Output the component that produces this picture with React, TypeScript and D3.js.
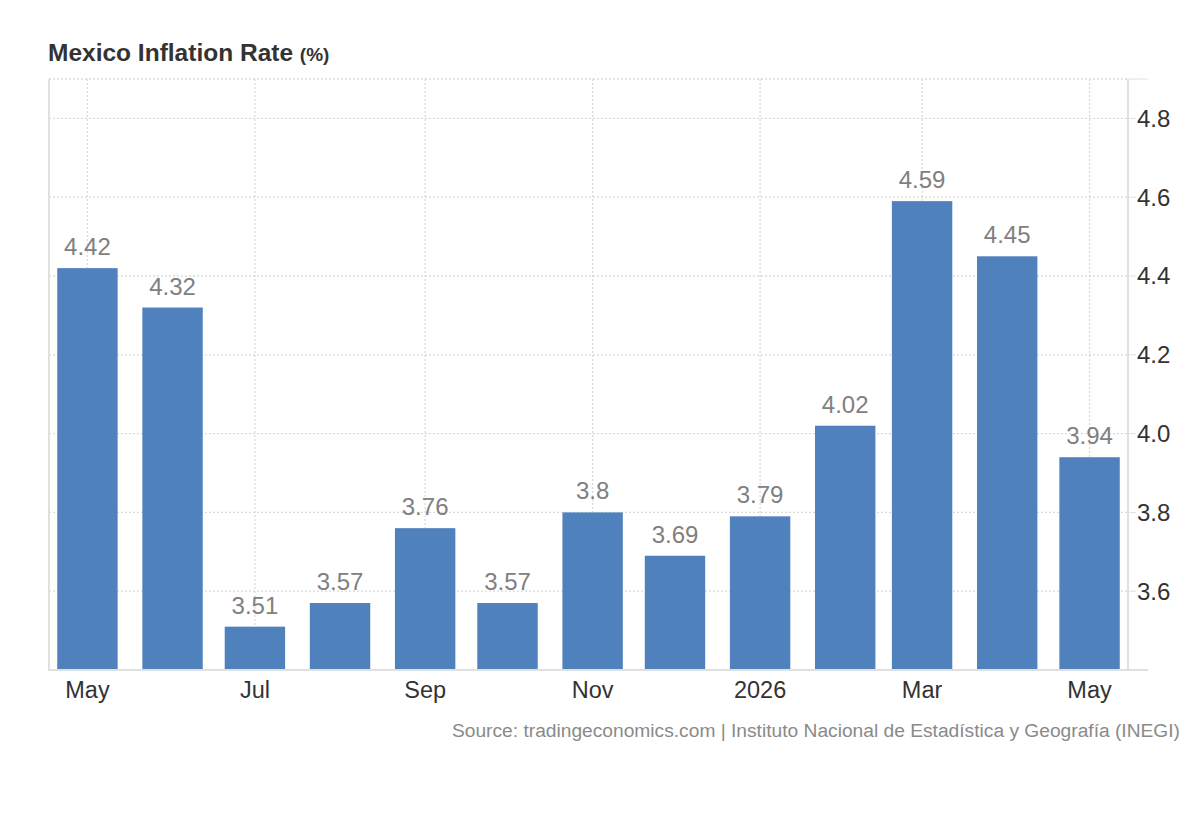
import React, { useRef, useEffect } from "react";
import * as d3 from "d3";

const months = [
  "2025-05-01", "2025-06-01", "2025-07-01", "2025-08-01", "2025-09-01",
  "2025-10-01", "2025-11-01", "2025-12-01", "2026-01-01", "2026-02-01",
  "2026-03-01", "2026-04-01", "2026-05-01",
];
const inflation = [4.42, 4.32, 3.51, 3.57, 3.76, 3.57, 3.8, 3.69, 3.79, 4.02, 4.59, 4.45, 3.94];
const yTicks = [3.6, 3.8, 4.0, 4.2, 4.4, 4.6, 4.8];
const xTickDates = ["2025-05-01", "2025-07-01", "2025-09-01", "2025-11-01", "2026-01-01", "2026-03-01", "2026-05-01"];
const xTickLabels = ["May", "Jul", "Sep", "Nov", "2026", "Mar", "May"];

const FONT = "'Liberation Sans', Arial, Helvetica, sans-serif";

const App: React.FC = () => {
  const svgRef = useRef<SVGSVGElement | null>(null);

  useEffect(() => {
    if (!svgRef.current) return;
    const svg = d3.select(svgRef.current);
    svg.selectAll("*").remove();

    const width = 1200;
    const height = 820;
    const left = 49;
    const right = 1128;
    const top = 79;
    const bottom = 670;

    const parse = d3.timeParse("%Y-%m-%d");
    const data = months.map((m, i) => ({ date: parse(m) as Date, value: inflation[i] }));

    const x = d3
      .scaleTime()
      .domain([parse("2025-04-17") as Date, parse("2026-05-15") as Date])
      .range([left, right]);

    const y = d3.scaleLinear().domain([3.4, 4.9]).range([bottom, top]);

    svg.attr("width", width).attr("height", height).style("font-family", FONT);

    // title
    const title = svg.append("text").attr("x", 48).attr("y", 61).attr("fill", "#333");
    title.append("tspan").attr("font-size", 24.5).attr("font-weight", "bold").text("Mexico Inflation Rate ");
    title.append("tspan").attr("font-size", 19).attr("font-weight", "bold").text("(%)");

    const grid = svg.append("g");
    // horizontal gridlines
    grid
      .selectAll("line.h")
      .data([...yTicks, 4.9])
      .join("line")
      .attr("x1", left)
      .attr("x2", right)
      .attr("y1", (d) => y(d))
      .attr("y2", (d) => y(d))
      .attr("stroke", "#dadada")
      .attr("stroke-width", 1.3)
      .attr("stroke-dasharray", "2,2");

    // vertical gridlines
    grid
      .selectAll("line.v")
      .data(xTickDates)
      .join("line")
      .attr("x1", (d) => x(parse(d) as Date))
      .attr("x2", (d) => x(parse(d) as Date))
      .attr("y1", top)
      .attr("y2", bottom)
      .attr("stroke", "#dadada")
      .attr("stroke-width", 1.3)
      .attr("stroke-dasharray", "2,2");

    // bars
    const barW = x(d3.timeDay.offset(data[0].date, 22)) - x(data[0].date);
    svg
      .append("g")
      .selectAll("rect")
      .data(data)
      .join("rect")
      .attr("x", (d) => x(d.date) - barW / 2)
      .attr("y", (d) => y(d.value))
      .attr("width", barW)
      .attr("height", (d) => bottom - y(d.value))
      .attr("fill", "#4f81bd");

    // value labels
    svg
      .append("g")
      .selectAll("text")
      .data(data)
      .join("text")
      .attr("x", (d) => x(d.date))
      .attr("y", (d) => y(d.value) - 13)
      .attr("text-anchor", "middle")
      .attr("font-size", 24)
      .attr("fill", "#808080")
      .text((d) => String(d.value));

    // axis lines
    const axisColor = "#e0e0e0";
    svg.append("line").attr("x1", left).attr("x2", left).attr("y1", top).attr("y2", bottom + 1)
      .attr("stroke", axisColor).attr("stroke-width", 2);
    svg.append("line").attr("x1", right).attr("x2", right).attr("y1", top).attr("y2", bottom + 1)
      .attr("stroke", axisColor).attr("stroke-width", 2);
    svg.append("line").attr("x1", left).attr("x2", right + 20).attr("y1", bottom).attr("y2", bottom)
      .attr("stroke", axisColor).attr("stroke-width", 2);
    svg.append("line").attr("x1", right).attr("x2", right + 20).attr("y1", top).attr("y2", top)
      .attr("stroke", axisColor).attr("stroke-width", 1);

    // y axis ticks + labels
    const yAxis = svg.append("g");
    yAxis
      .selectAll("line")
      .data(yTicks)
      .join("line")
      .attr("x1", right)
      .attr("x2", right + 8)
      .attr("y1", (d) => y(d))
      .attr("y2", (d) => y(d))
      .attr("stroke", axisColor)
      .attr("stroke-width", 1);
    yAxis
      .selectAll("text")
      .data(yTicks)
      .join("text")
      .attr("x", right + 9)
      .attr("y", (d) => y(d))
      .attr("dy", "0.35em")
      .attr("font-size", 24)
      .attr("fill", "#333")
      .text((d) => d3.format(".1f")(d));

    // x axis labels
    svg
      .append("g")
      .selectAll("text")
      .data(xTickDates)
      .join("text")
      .attr("x", (d) => x(parse(d) as Date))
      .attr("y", 698)
      .attr("text-anchor", "middle")
      .attr("font-size", 23.5)
      .attr("fill", "#333")
      .text((_, i) => xTickLabels[i]);

    // source
    svg
      .append("text")
      .attr("x", 1180)
      .attr("y", 737)
      .attr("text-anchor", "end")
      .attr("font-size", 19.2)
      .attr("fill", "#8a8a8a")
      .text("Source: tradingeconomics.com | Instituto Nacional de Estadística y Geografía (INEGI)");
  }, []);

  return (
    <div style={{ position: "absolute", left: 0, top: 0, background: "#fff" }}>
      <svg ref={svgRef} width={1200} height={820} style={{ display: "block" }} />
    </div>
  );
};

export default App;
